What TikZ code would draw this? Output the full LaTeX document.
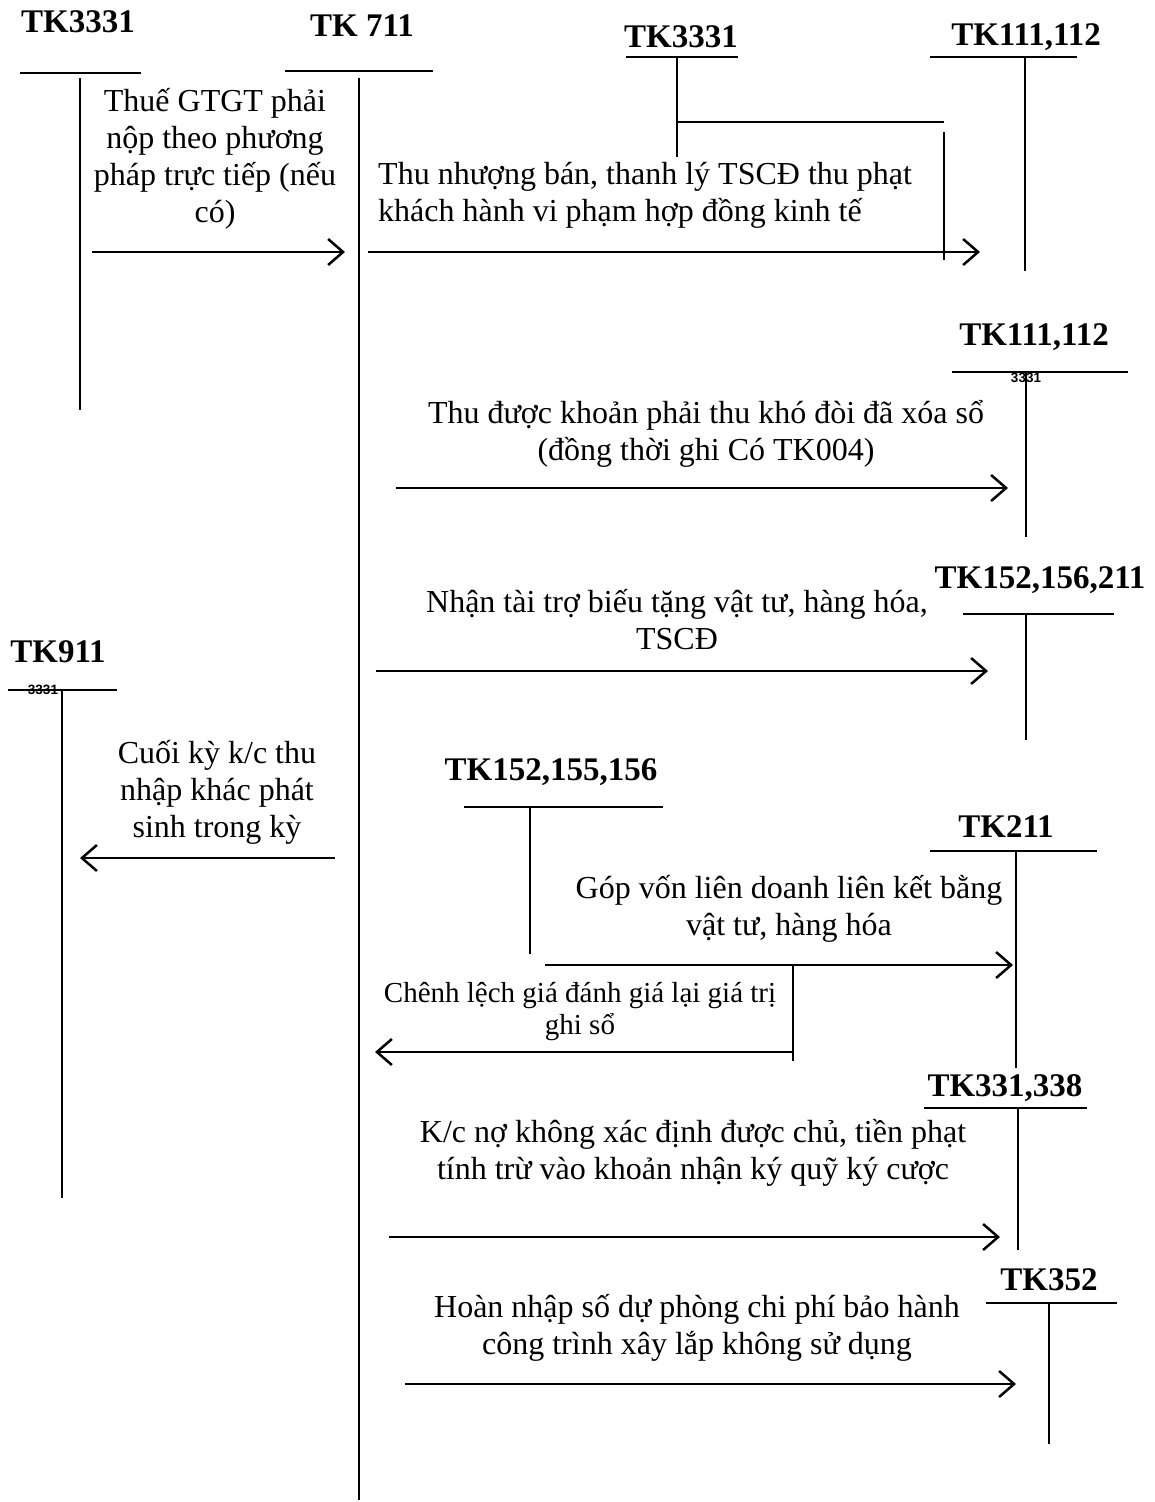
\documentclass[tikz,border=0pt]{standalone}
\usepackage{fontspec}
\setmainfont{Liberation Serif}
\setsansfont{Liberation Sans}
\usetikzlibrary{arrows.meta}
\begin{document}
\begin{tikzpicture}[x=1pt,y=-1pt,
  txt/.style={font=\fontsize{32}{37}\selectfont, align=center, inner sep=0pt},
  small/.style={font=\fontsize{29}{32}\selectfont, align=center, inner sep=0pt},
  hdr/.style={font=\fontsize{33}{38}\selectfont\bfseries, inner sep=0pt},
  tiny/.style={font=\fontsize{13.5}{15}\selectfont\sffamily\bfseries, inner sep=0pt},
  tline/.style={line width=2pt},
  arr/.style={line width=2.5pt, -{Straight Barb[length=15pt,width=26pt]}},
]
\useasboundingbox (0,0) rectangle (1154,1502);

% ---- account headings
\node[hdr] (k3331a) at (78,22)   {TK3331};
\node[hdr] (k711)   at (362,26)  {TK 711};
\node[hdr] (k3331b) at (681,37)  {TK3331};
\node[hdr] (k111a)  at (1026,37) {TK111,112};
\node[hdr] (k111b)  at (1034,337) {TK111,112};
\node[hdr] (k152a)  at (1040,580) {TK152,156,211};
\node[hdr] (k911)   at (58,652)  {TK911};
\node[hdr] (k152b)  at (551,772) {TK152,155,156};
\node[hdr] (k211)   at (1006,827) {TK211};
\node[hdr] (k331)   at (1005,1088) {TK331,338};
\node[hdr] (k352)   at (1049,1280) {TK352};

% ---- T-account rules
% TK3331 (left)
\coordinate (a1l) at (20,73);  \coordinate (a1r) at (141,73);
\coordinate (a1t) at (80,78);  \coordinate (a1b) at (80,410);
\draw[tline] (a1l) -- (a1r); \draw[tline] (a1t) -- (a1b);
% TK 711
\coordinate (a2l) at (285,71); \coordinate (a2r) at (433,71);
\coordinate (a2t) at (359,78); \coordinate (a2b) at (359,1500);
\draw[tline] (a2l) -- (a2r); \draw[tline] (a2t) -- (a2b);
% TK3331 (right) with branch
\coordinate (a3l) at (626,57); \coordinate (a3r) at (738,57);
\coordinate (a3t) at (677,57); \coordinate (a3b) at (677,157);
\coordinate (a3j) at (677,122); \coordinate (a3k) at (944,122);
\coordinate (a3u) at (944,132); \coordinate (a3d) at (944,260);
\draw[tline] (a3l) -- (a3r); \draw[tline] (a3t) -- (a3b);
\draw[tline] (a3j) -- (a3k); \draw[tline] (a3u) -- (a3d);
% TK111,112 (top)
\coordinate (a4l) at (930,57); \coordinate (a4r) at (1077,57);
\coordinate (a4t) at (1025,57); \coordinate (a4b) at (1025,271);
\draw[tline] (a4l) -- (a4r); \draw[tline] (a4t) -- (a4b);
% TK111,112 (second)
\coordinate (a5l) at (952,372); \coordinate (a5r) at (1128,372);
\coordinate (a5t) at (1026,372); \coordinate (a5b) at (1026,537);
\draw[tline] (a5l) -- (a5r); \draw[tline] (a5t) -- (a5b);
\node[tiny] (n5) at (1026,378) {3331};
% TK152,156,211
\coordinate (a6l) at (963,614); \coordinate (a6r) at (1114,614);
\coordinate (a6t) at (1026,614); \coordinate (a6b) at (1026,740);
\draw[tline] (a6l) -- (a6r); \draw[tline] (a6t) -- (a6b);
% TK911
\coordinate (a7l) at (8,690); \coordinate (a7r) at (117,690);
\coordinate (a7t) at (62,690); \coordinate (a7b) at (62,1198);
\draw[tline] (a7l) -- (a7r); \draw[tline] (a7t) -- (a7b);
\node[tiny] (n7) at (43,690) {3331};
% TK152,155,156
\coordinate (a8l) at (464,807); \coordinate (a8r) at (663,807);
\coordinate (a8t) at (530,807); \coordinate (a8b) at (530,954);
\draw[tline] (a8l) -- (a8r); \draw[tline] (a8t) -- (a8b);
% TK211
\coordinate (a9l) at (930,851); \coordinate (a9r) at (1097,851);
\coordinate (a9t) at (1016,851); \coordinate (a9b) at (1016,1068);
\draw[tline] (a9l) -- (a9r); \draw[tline] (a9t) -- (a9b);
% TK331,338
\coordinate (a10l) at (924,1108); \coordinate (a10r) at (1087,1108);
\coordinate (a10t) at (1018,1108); \coordinate (a10b) at (1018,1250);
\draw[tline] (a10l) -- (a10r); \draw[tline] (a10t) -- (a10b);
% TK352
\coordinate (a11l) at (986,1303); \coordinate (a11r) at (1117,1303);
\coordinate (a11t) at (1049,1303); \coordinate (a11b) at (1049,1444);
\draw[tline] (a11l) -- (a11r); \draw[tline] (a11t) -- (a11b);

% ---- entries
\node[txt] (t1) at (215,159) {Thuế GTGT phải\\nộp theo phương\\pháp trực tiếp (nếu\\có)};
\coordinate (p1s) at (92,252); \coordinate (p1e) at (345,252);
\draw[arr] (p1s) -- (p1e);

\node[txt, align=left, anchor=west] (t2) at (378,195) {Thu nhượng bán, thanh lý TSCĐ thu phạt\\khách hành vi phạm hợp đồng kinh tế};
\coordinate (p2s) at (368,252); \coordinate (p2e) at (980,252);
\draw[arr] (p2s) -- (p2e);

\node[txt] (t3) at (706,434) {Thu được khoản phải thu khó đòi đã xóa sổ\\(đồng thời ghi Có TK004)};
\coordinate (p3s) at (396,488); \coordinate (p3e) at (1008,488);
\draw[arr] (p3s) -- (p3e);

\node[txt] (t4) at (677,620) {Nhận tài trợ biếu tặng vật tư, hàng hóa,\\TSCĐ};
\coordinate (p4s) at (376,671); \coordinate (p4e) at (988,671);
\draw[arr] (p4s) -- (p4e);

\node[txt] (t5) at (217,792) {Cuối kỳ k/c thu\\nhập khác phát\\sinh trong kỳ};
\coordinate (p5s) at (335,858); \coordinate (p5e) at (80,858);
\draw[arr] (p5s) -- (p5e);

\node[txt] (t6) at (789,909) {Góp vốn liên doanh liên kết bằng\\vật tư, hàng hóa};
\coordinate (p6s) at (545,965); \coordinate (p6e) at (1013,965);
\draw[arr] (p6s) -- (p6e);

\coordinate (p7t) at (793,965); \coordinate (p7s) at (793,1061);
\coordinate (p7c) at (793,1052); \coordinate (p7e) at (375,1052);
\draw[tline] (p7t) -- (p7s);
\draw[arr] (p7c) -- (p7e);
\node[small] (t7) at (580,1012) {Chênh lệch giá đánh giá lại giá trị\\ghi sổ};

\node[txt] (t8) at (693,1153) {K/c nợ không xác định được chủ, tiền phạt\\tính trừ vào khoản nhận ký quỹ ký cược};
\coordinate (p8s) at (389,1237); \coordinate (p8e) at (1000,1237);
\draw[arr] (p8s) -- (p8e);

\node[txt] (t9) at (697,1328) {Hoàn nhập số dự phòng chi phí bảo hành\\công trình xây lắp không sử dụng};
\coordinate (p9s) at (405,1384); \coordinate (p9e) at (1016,1384);
\draw[arr] (p9s) -- (p9e);
\end{tikzpicture}
\end{document}
